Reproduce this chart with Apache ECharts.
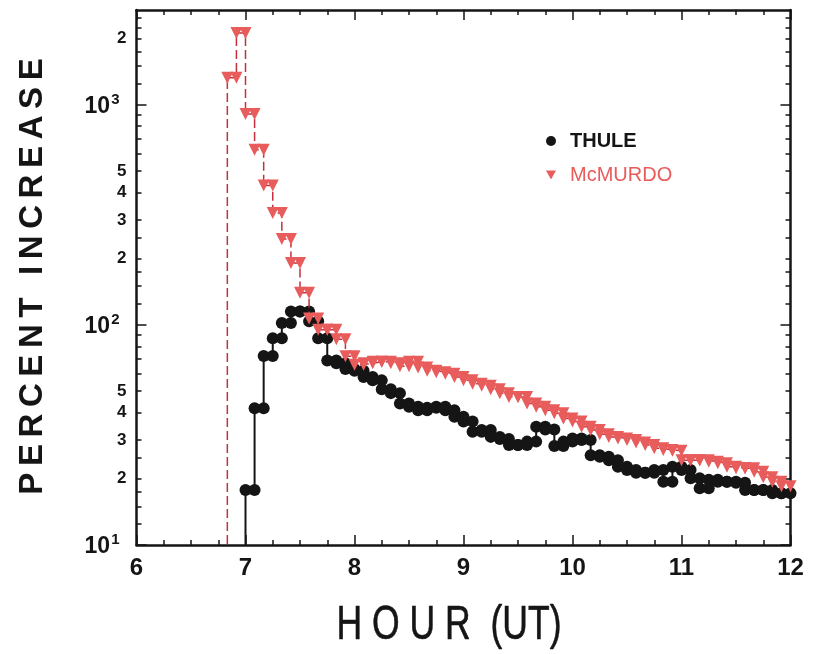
<!DOCTYPE html>
<html>
<head>
<meta charset="utf-8">
<script src="https://cdn.jsdelivr.net/npm/echarts@6/dist/echarts.min.js"></script>
<style>
html,body{margin:0;padding:0;background:#fff;}
#chart{width:815px;height:654px;}
</style>
</head>
<body>
<div id="chart"></div>
<script>
// ---- data (5-minute averages, percent increase) ----
const stepMinutes = 5;
const mcmurdoStart = '06:50';
const mcmurdoValues = [
  1330, 2120, 910, 625, 430, 323, 246, 191, 140, 107,
  95, 95, 86, 72, 66, 67, 68, 68, 67, 65,
  68, 64, 62, 61, 60, 58, 56, 54, 53, 51,
  49, 47, 47, 44, 42.5, 41, 39.7, 37.6, 36.4, 34.5,
  33.3, 31.9, 31, 30.5, 30, 29.2, 28.5, 27.5, 27, 26.8,
  24.3, 24.3, 24.3, 23.9, 23.5, 22.7, 22.3, 22.3, 21.5, 20.3,
  19.4, 18.5
];
const thuleStart = '07:00';
const thuleValues = [
  17.8, 41.8, 72.3, 87, 102, 115, 115, 104, 87, 69,
  67, 63, 62, 58, 56, 51, 49, 44, 42.5, 41,
  42, 42.5, 41, 38.3, 36.4, 32.7, 33.3, 31, 30.3, 28.5,
  28.5, 29.5, 34.5, 33.5, 28.2, 29.5, 30.5, 30, 25.6, 25.2,
  24.3, 22.7, 21.9, 21.3, 21.3, 21.9, 19.4, 22.7, 21.9, 20.1,
  18.1, 19.8, 19.4, 19.4, 19.2, 17.8, 17.8, 17.8, 17.2, 17.2
];
const offScaleOnset = 1;           // level before onset (below the axis floor)
const seriesNames = ['THULE', 'McMURDO'];

// ---- axis tick values ----
const xMin = 6, xMax = 12, xStep = 1;
const yMin = 10, yMax = 2700;
const yDecadeTicks = [10, 100, 1000];
const yLabelledMinor = [20, 30, 40, 50, 200, 300, 400, 500, 2000];
const yMinorTicks = [12.5, 15, 17.5, 20, 25, 30, 40, 50, 60, 70, 80, 90,
  125, 150, 175, 200, 250, 300, 400, 500, 600, 700, 800, 900,
  1250, 1500, 1750, 2000, 2250, 2500];

const FONT = '"Liberation Sans", Arial, Helvetica, sans-serif';
const BLACK = '#151515';
const RED = '#e85c5c';
const RED_LINE = '#c2303e';
const TS = '\u2009'; // thin space for letter spacing

function toHours(hhmm) {
  const p = hhmm.split(':');
  return +p[0] + (+p[1]) / 60;
}
function buildSteps(start, values) {
  const t0 = toHours(start), dt = stepMinutes / 60;
  const pts = [{ value: [t0, offScaleOnset], symbol: 'none' }];
  values.forEach((v, i) => {
    const a = t0 + i * dt;
    pts.push([a, v]);
    pts.push([a + dt, v]);
  });
  return pts;
}
const lg = v => Math.log10(v);
const spaced = s => s.split('').join(TS);

const chart = echarts.init(document.getElementById('chart'), null, { renderer: 'canvas' });

const axisLineStyle = { color: BLACK, width: 2.5 };
function tickAxis(position, ticks, len, labels, labelOpt) {
  return {
    type: 'value', position: position, min: lg(yMin), max: lg(yMax),
    axisLine: { show: false },
    splitLine: { show: false },
    axisTick: { show: true, inside: true, length: len, customValues: ticks.map(lg),
      lineStyle: { color: BLACK, width: 1.5 } },
    axisLabel: labels ? Object.assign({ show: true, customValues: labels.map(lg) }, labelOpt) : { show: false }
  };
}

const option = {
  animation: false,
  backgroundColor: '#fff',
  grid: { left: 136.5, right: 24.5, top: 10, bottom: 109, containLabel: false },
  xAxis: [
    {
      type: 'value', min: xMin, max: xMax, interval: xStep, position: 'bottom',
      axisLine: { show: true, onZero: false, lineStyle: axisLineStyle },
      axisTick: { show: true, inside: true, length: 10, lineStyle: { color: BLACK, width: 1.5 } },
      minorTick: { show: true, splitNumber: 4, length: 5, lineStyle: { color: BLACK, width: 1.5 } },
      splitLine: { show: false },
      axisLabel: { show: true, margin: 11, color: BLACK, fontSize: 24, fontWeight: 'bold', fontFamily: FONT }
    },
    {
      type: 'value', min: xMin, max: xMax, interval: xStep, position: 'top',
      axisLine: { show: true, onZero: false, lineStyle: axisLineStyle },
      axisTick: { show: true, inside: true, length: 10, lineStyle: { color: BLACK, width: 1.5 } },
      minorTick: { show: true, splitNumber: 4, length: 5, lineStyle: { color: BLACK, width: 1.5 } },
      splitLine: { show: false },
      axisLabel: { show: false }
    }
  ],
  yAxis: [
    {
      type: 'log', logBase: 10, min: yMin, max: yMax, position: 'left',
      axisLine: { show: true, onZero: false, lineStyle: axisLineStyle },
      axisTick: { show: false }, axisLabel: { show: false }, splitLine: { show: false }
    },
    tickAxis('left', yDecadeTicks, 10, yDecadeTicks, {
      margin: 17,
      formatter: v => '{b|10}{s|' + Math.round(v) + '}',
      rich: {
        b: { fontSize: 23, fontWeight: 'bold', color: BLACK, fontFamily: FONT, lineHeight: 26, verticalAlign: 'bottom' },
        s: { fontSize: 15, fontWeight: 'bold', color: BLACK, fontFamily: FONT, lineHeight: 26, verticalAlign: 'top', padding: [0, 0, 0, 1] }
      }
    }),
    tickAxis('left', yMinorTicks, 5, yLabelledMinor, {
      margin: 10, color: BLACK, fontSize: 17, fontWeight: 'bold', fontFamily: FONT,
      formatter: v => String(Math.round(Math.pow(10, v) / Math.pow(10, Math.floor(v + 1e-9))))
    }),
    Object.assign(tickAxis('right', yDecadeTicks, 10, null), { axisLine: { show: true, onZero: false, lineStyle: axisLineStyle } }),
    tickAxis('right', yMinorTicks, 5, null)
  ],
  legend: {
    orient: 'vertical', left: 541, top: 125,
    itemWidth: 10, itemHeight: 10, itemGap: 12,
    selectedMode: false,
    textStyle: { fontSize: 20, fontFamily: FONT, lineHeight: 22, padding: [0, 0, 0, 9] },
    data: [
      { name: seriesNames[0], icon: 'circle', textStyle: { color: BLACK, fontWeight: 'bold' } },
      { name: seriesNames[1], icon: 'path://M0,0L10,0L5,9Z', textStyle: { color: RED, fontWeight: 'normal' } }
    ]
  },
  graphic: [
    {
      type: 'text', x: 449, y: 626, scaleX: 0.74, silent: true,
      style: { text: 'H O U R  (UT)', font: 'normal 48px ' + FONT, fill: BLACK, stroke: BLACK, lineWidth: 0.6,
        textAlign: 'center', textVerticalAlign: 'middle' }
    },
    {
      type: 'text', x: 33, y: 276.5, rotation: Math.PI / 2, silent: true,
      style: { text: spaced('PERCENT') + TS + ' ' + TS + spaced('INCREASE'), font: 'bold 33px ' + FONT, fill: BLACK,
        textAlign: 'center', textVerticalAlign: 'middle' }
    }
  ],
  series: [
    {
      name: seriesNames[0], type: 'line', xAxisIndex: 0, yAxisIndex: 0,
      data: buildSteps(thuleStart, thuleValues),
      symbol: 'circle', symbolSize: 12, showSymbol: true, showAllSymbol: true,
      itemStyle: { color: BLACK },
      lineStyle: { color: BLACK, width: 2 },
      clip: true, z: 2, emphasis: { disabled: true }
    },
    {
      name: seriesNames[1], type: 'line', xAxisIndex: 0, yAxisIndex: 0,
      data: buildSteps(mcmurdoStart, mcmurdoValues),
      symbol: 'triangle', symbolRotate: 180, symbolSize: 12, showSymbol: true, showAllSymbol: true,
      itemStyle: { color: RED },
      lineStyle: { color: RED_LINE, width: 1.5, type: [9, 4] },
      clip: true, z: 3, emphasis: { disabled: true }
    }
  ]
};
chart.setOption(option);
</script>
</body>
</html>
